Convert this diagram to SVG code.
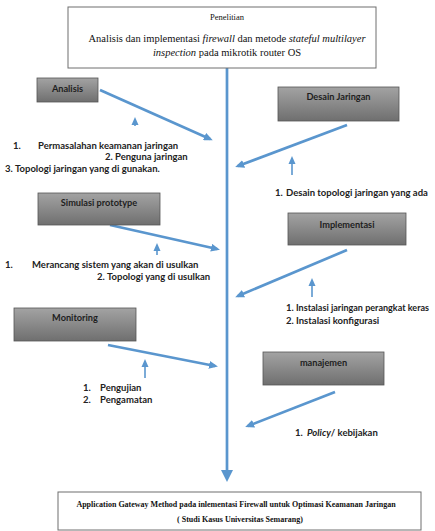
<svg xmlns="http://www.w3.org/2000/svg" width="435" height="531" viewBox="0 0 435 531">
<defs>
<linearGradient id="gbox" x1="0" y1="0" x2="0" y2="1">
<stop offset="0" stop-color="#a3a3a3"/>
<stop offset="1" stop-color="#6f6f6f"/>
</linearGradient>
<marker id="ah" markerWidth="9" markerHeight="8" refX="6" refY="4" orient="auto" markerUnits="userSpaceOnUse">
<path d="M0,0 L9,4 L0,8 z" fill="#5a96ce"/>
</marker>
<marker id="ahs" markerWidth="8" markerHeight="8" refX="5" refY="4" orient="auto" markerUnits="userSpaceOnUse">
<path d="M0,0.5 L8,4 L0,7.5 z" fill="#5a96ce"/>
</marker>
<marker id="ahb" markerWidth="12" markerHeight="12" refX="6" refY="6" orient="auto" markerUnits="userSpaceOnUse">
<path d="M0,0 L12,6 L0,12 z" fill="#5a96ce"/>
</marker>
</defs>
<style>
.wbox{fill:#fff;stroke:#6e6e6e;stroke-width:1}
.gbox{fill:url(#gbox);stroke:#555;stroke-width:0.8}
.lbl{font-family:Lato,"Open Sans","Liberation Sans",sans-serif;font-size:9.2px;font-weight:bold;fill:#1e1e1e;text-anchor:middle}
.lst{font-family:Lato,"Open Sans","Liberation Sans",sans-serif;font-size:9.5px;font-weight:bold;fill:#222}
.ser{font-family:"Liberation Serif","Times New Roman",serif;fill:#111}
.conn{stroke:#5a96ce;fill:none;stroke-width:2.7}
.up{stroke:#5a96ce;fill:none;stroke-width:1.6}
</style>
<rect width="435" height="531" fill="#fff"/>

<g id="connectors">
<line class="conn" x1="227" y1="68" x2="227" y2="476" stroke-width="4" marker-end="url(#ahb)"/>
<line class="conn" x1="100" y1="90" x2="210" y2="139" marker-end="url(#ah)"/>
<line class="conn" x1="347" y1="125" x2="238" y2="166" marker-end="url(#ah)"/>
<line class="conn" x1="110" y1="225" x2="217" y2="249" marker-end="url(#ah)"/>
<line class="conn" x1="347" y1="250" x2="238" y2="296" marker-end="url(#ah)"/>
<line class="conn" x1="108" y1="345" x2="215" y2="366" marker-end="url(#ah)"/>
<line class="conn" x1="335" y1="392" x2="248" y2="426" marker-end="url(#ah)"/>
<line class="up" x1="135" y1="126" x2="135" y2="120" marker-end="url(#ahs)"/>
<line class="up" x1="292" y1="175" x2="292" y2="159" marker-end="url(#ahs)"/>
<line class="up" x1="157" y1="255" x2="157" y2="246" marker-end="url(#ahs)"/>
<line class="up" x1="312" y1="297" x2="312" y2="281" marker-end="url(#ahs)"/>
<line class="up" x1="145" y1="378" x2="145" y2="362" marker-end="url(#ahs)"/>
</g>

<g id="penelitian">
<rect class="wbox" x="68" y="7" width="308" height="61"/>
<text class="ser" x="227" y="20" font-size="8.5" text-anchor="middle">Penelitian</text>
<text class="ser" x="227" y="42" font-size="10.5" text-anchor="middle">Analisis dan implementasi <tspan font-style="italic">firewall</tspan> dan metode <tspan font-style="italic">stateful multilayer</tspan></text>
<text class="ser" x="227" y="56" font-size="10.5" text-anchor="middle"><tspan font-style="italic">inspection</tspan> pada mikrotik router OS</text>
</g>

<g id="analisis">
<rect class="gbox" x="37" y="78" width="61" height="24"/>
<text class="lbl" x="67.5" y="92">Analisis</text>
</g>
<g id="analisis-items">
<text class="lst" x="13" y="149">1.</text><text class="lst" x="38" y="149">Permasalahan keamanan jaringan</text>
<text class="lst" x="105" y="160">2.</text><text class="lst" x="115" y="160">Penguna jaringan</text>
<text class="lst" x="5" y="172">3.</text><text class="lst" x="15" y="172">Topologi jaringan yang di gunakan.</text>
</g>

<g id="desain-jaringan">
<rect class="gbox" x="278" y="87" width="121" height="34"/>
<text class="lbl" x="338.5" y="100">Desain Jaringan</text>
</g>
<g id="desain-items">
<text class="lst" x="275" y="196">1.</text><text class="lst" x="286" y="196">Desain topologi jaringan yang ada</text>
</g>

<g id="simulasi-prototype">
<rect class="gbox" x="38" y="193" width="122" height="32"/>
<text class="lbl" x="99" y="206">Simulasi prototype</text>
</g>
<g id="simulasi-items">
<text class="lst" x="5" y="268">1.</text><text class="lst" x="32" y="268">Merancang sistem yang akan di usulkan</text>
<text class="lst" x="97" y="280">2.</text><text class="lst" x="107" y="280">Topologi yang di usulkan</text>
</g>

<g id="implementasi">
<rect class="gbox" x="288" y="213" width="118" height="32"/>
<text class="lbl" x="347" y="228">Implementasi</text>
</g>
<g id="implementasi-items">
<text class="lst" x="286" y="311">1.</text><text class="lst" x="296" y="311" font-size="9" textLength="133" lengthAdjust="spacingAndGlyphs">Instalasi jaringan perangkat keras</text>
<text class="lst" x="286" y="324">2.</text><text class="lst" x="296" y="324">Instalasi konfigurasi</text>
</g>

<g id="monitoring">
<rect class="gbox" x="14" y="308" width="122" height="33"/>
<text class="lbl" x="75" y="321">Monitoring</text>
</g>
<g id="monitoring-items">
<text class="lst" x="83" y="391">1.</text><text class="lst" x="100" y="391">Pengujian</text>
<text class="lst" x="83" y="403">2.</text><text class="lst" x="100" y="403">Pengamatan</text>
</g>

<g id="manajemen">
<rect class="gbox" x="263" y="352" width="121" height="33"/>
<text class="lbl" x="323.5" y="366">manajemen</text>
</g>
<g id="manajemen-items">
<text class="lst" x="295" y="436">1.</text><text class="lst" x="307" y="436"><tspan font-style="italic">Policy</tspan>/ kebijakan</text>
</g>

<g id="hasil">
<rect class="wbox" x="58" y="492" width="363" height="38"/>
<text class="ser" x="236" y="507" font-size="8" font-weight="bold" text-anchor="middle">Application Gateway Method pada inlementasi Firewall untuk Optimasi Keamanan Jaringan</text>
<text class="ser" x="240" y="522" font-size="8" font-weight="bold" text-anchor="middle">( Studi Kasus Universitas Semarang)</text>
</g>
</svg>
